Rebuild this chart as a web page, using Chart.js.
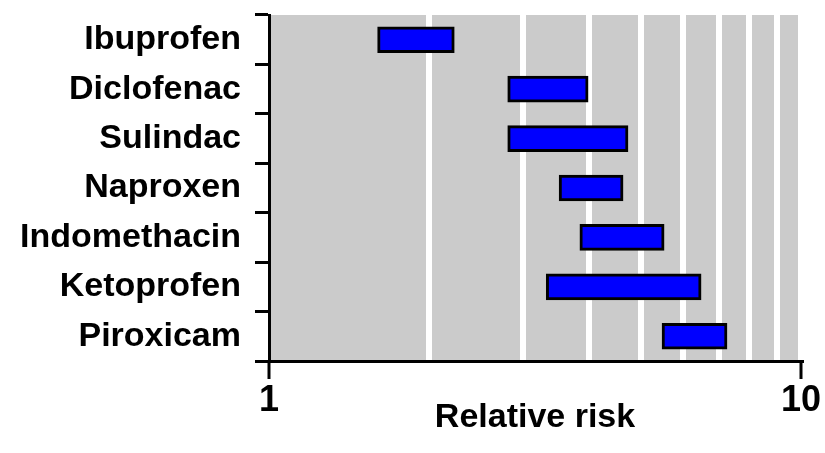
<!DOCTYPE html>
<html>
<head>
<meta charset="utf-8">
<script src="https://cdn.jsdelivr.net/npm/chart.js@4/dist/chart.umd.min.js"></script>
<style>
  html, body { margin: 0; padding: 0; background: #fff; }
  #chart { display: block; }
</style>
</head>
<body>
<canvas id="chart" width="825" height="453"></canvas>
<script>
const drugs = ['Ibuprofen', 'Diclofenac', 'Sulindac', 'Naproxen', 'Indomethacin', 'Ketoprofen', 'Piroxicam'];
const riskLow = [1.60, 2.81, 2.81, 3.51, 3.84, 3.32, 5.48];
const riskHigh = [2.23, 3.98, 4.73, 4.63, 5.53, 6.49, 7.26];
const xTicks = [1, 2, 3, 4, 5, 6, 7, 8, 9, 10];
const xTickLabels = [1, 10];

const plotBg = {
  id: 'plotBg',
  beforeDraw(chart) {
    const { ctx, chartArea: a } = chart;
    ctx.save();
    ctx.fillStyle = '#cbcbcb';
    ctx.fillRect(a.left, a.top, a.right - a.left, a.bottom - a.top);
    ctx.restore();
  }
};

const font = { family: '"Liberation Sans", Arial, sans-serif', weight: 'bold' };

new Chart(document.getElementById('chart'), {
  type: 'bar',
  data: {
    labels: drugs,
    datasets: [{
      data: drugs.map((d, i) => [riskLow[i], riskHigh[i]]),
      backgroundColor: '#0000ff',
      borderColor: '#000',
      borderWidth: 3,
      borderSkipped: false,
      barThickness: 26
    }]
  },
  options: {
    indexAxis: 'y',
    responsive: false,
    animation: false,
    layout: { padding: { top: 15, right: 24, bottom: 11, left: 0 } },
    plugins: { legend: { display: false }, tooltip: { enabled: false } },
    scales: {
      x: {
        type: 'logarithmic',
        min: 1,
        max: 10,
        afterBuildTicks: s => { s.ticks = xTicks.map(v => ({ value: v })); },
        afterFit: s => { s.height = 81; s.paddingLeft = 0; s.paddingRight = 0; },
        border: { color: '#000', width: 3 },
        grid: {
          color: c => (c.tick && c.tick.value === 1) ? 'rgba(0,0,0,0)' : '#fff',
          lineWidth: 6,
          tickColor: c => (c.tick && xTickLabels.includes(c.tick.value)) ? '#000' : 'rgba(0,0,0,0)',
          tickWidth: 3,
          tickLength: 18
        },
        ticks: {
          autoSkip: false,
          maxRotation: 0,
          padding: 0,
          color: '#000',
          font: { ...font, size: 36 },
          callback: v => xTickLabels.includes(v) ? String(v) : ''
        },
        title: {
          display: true,
          text: 'Relative risk',
          color: '#000',
          font: { ...font, size: 34 }
        }
      },
      y: {
        afterFit: s => { s.width = 269; s.paddingTop = 0; s.paddingBottom = 0; },
        border: { color: '#000', width: 3 },
        grid: {
          drawOnChartArea: false,
          color: '#000',
          lineWidth: 3,
          tickLength: 14
        },
        ticks: {
          padding: 14,
          color: '#000',
          font: { ...font, size: 34 }
        }
      }
    }
  },
  plugins: [plotBg]
});
</script>
</body>
</html>
